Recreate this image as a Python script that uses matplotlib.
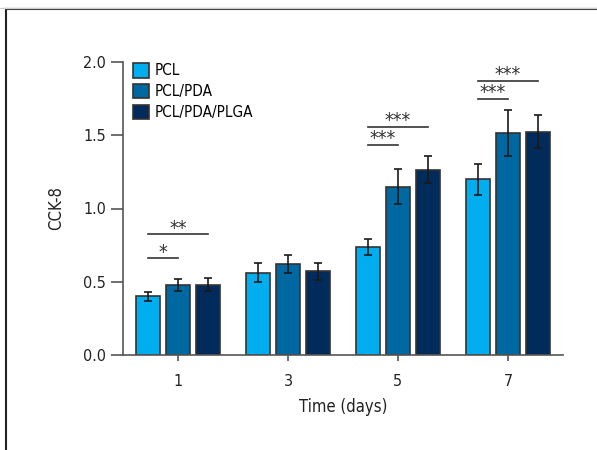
import matplotlib
matplotlib.use("Agg")
import matplotlib.pyplot as plt
import numpy as np
from matplotlib.lines import Line2D

plt.rcParams['font.family'] = ['DejaVu Sans']
plt.rcParams['font.stretch'] = 'condensed'

days = ["1", "3", "5", "7"]
groups = ["PCL", "PCL/PDA", "PCL/PDA/PLGA"]
means = {
    "PCL":          [0.40, 0.56, 0.74, 1.20],
    "PCL/PDA":      [0.48, 0.62, 1.15, 1.515],
    "PCL/PDA/PLGA": [0.48, 0.57, 1.265, 1.525],
}
errs = {
    "PCL":          [0.03, 0.065, 0.055, 0.105],
    "PCL/PDA":      [0.04, 0.06, 0.12, 0.155],
    "PCL/PDA/PLGA": [0.045, 0.06, 0.09, 0.11],
}
colors = ["#00AEEF", "#0068A0", "#002B5B"]
sig = [
    (0, 0, 1, 0.66, "*"),
    (0, 0, 2, 0.823, "**"),
    (2, 0, 1, 1.434, "***"),
    (2, 0, 2, 1.555, "***"),
    (3, 0, 1, 1.748, "***"),
    (3, 0, 2, 1.87, "***"),
]
yticks = [0.0, 0.5, 1.0, 1.5, 2.0]

fig = plt.figure(figsize=(5.97, 4.5), dpi=100)
ax = fig.add_axes([123/597, 1-355/450, (563-123)/597, (355-62)/450])

x = np.arange(len(days))
width = 0.21
offset = 0.273
for i, g in enumerate(groups):
    pos = x + (i - 1) * offset
    ax.bar(pos, means[g], width, color=colors[i], edgecolor="#333333",
           linewidth=1.2, label=g, zorder=2)
    ax.errorbar(pos, means[g], yerr=errs[g], fmt="none", ecolor="#1a1a1a",
                elinewidth=1.2, capsize=3, capthick=1.2, zorder=3)

for d, a, b, y, lab in sig:
    xa = d + (a - 1) * offset
    xb = d + (b - 1) * offset
    ax.plot([xa, xb], [y, y], color="#333333", lw=1.2, clip_on=False)
    ax.annotate(lab, xy=((xa + xb) / 2, y), xytext=(0, 0.5),
                textcoords="offset points", ha="center", va="baseline",
                fontsize=14, family="DejaVu Sans", color="#333333",
                annotation_clip=False)

ax.set_xlim(-0.5, 3.5)
ax.set_ylim(0, 2.0)
ax.set_xticks(x)
ax.set_xticklabels(days)
ax.set_yticks(yticks)
ax.set_yticklabels([f"{v:.1f}" for v in yticks])
for s in ["top", "right"]:
    ax.spines[s].set_visible(False)
for s in ["left", "bottom"]:
    ax.spines[s].set_color("#555555")
    ax.spines[s].set_linewidth(1.2)
ax.tick_params(axis="y", length=9, width=1.2, color="#555555", pad=3,
               labelsize=11.5, labelcolor="#222222")
ax.tick_params(axis="x", length=4, width=1.2, color="#555555", pad=10,
               labelsize=11.5, labelcolor="#222222")
ax.set_xlabel("Time (days)", fontsize=12, color="#222222", labelpad=6)
ax.set_ylabel("CCK-8", fontsize=12, color="#222222", labelpad=13)

ax.legend(loc="upper left", bbox_to_anchor=(10/440, 0.997), frameon=False,
          fontsize=11, handlelength=1.05, handleheight=1.1,
          handletextpad=0.35, labelspacing=0.35, borderaxespad=0,
          borderpad=0)

fig.add_artist(Line2D([6/597, 6/597], [0, 1-9/450], color="#222222", lw=1.5,
                      transform=fig.transFigure))
fig.add_artist(Line2D([6/597, 1], [1-9/450, 1-9/450], color="#222222", lw=1.5,
                      transform=fig.transFigure))
fig.add_artist(Line2D([0, 1], [1-7.5/450, 1-7.5/450], color="#cccccc", lw=1,
                      transform=fig.transFigure))

fig.savefig("out.png", dpi=100)
